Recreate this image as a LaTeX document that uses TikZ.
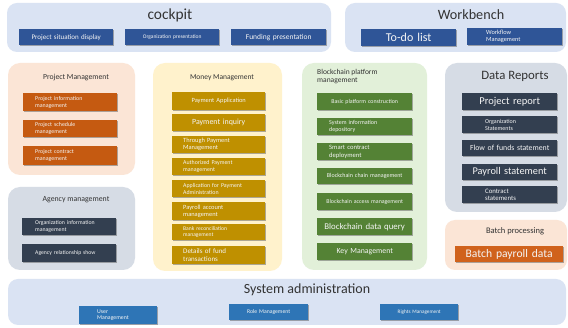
\documentclass[tikz,border=0pt]{standalone}
\usepackage{fontspec}
\setmainfont{Carlito}
\usetikzlibrary{shadows}
\definecolor{pblue}{HTML}{DAE3F3}
\definecolor{pgray}{HTML}{D6DCE5}
\definecolor{ppeach}{HTML}{FBE5D6}
\definecolor{pyellow}{HTML}{FFF2CC}
\definecolor{pgreen}{HTML}{E2F0D9}
\definecolor{cdblue}{HTML}{2F5597}
\definecolor{csblue}{HTML}{2E75B6}
\definecolor{corange}{HTML}{C55A11}
\definecolor{cbatch}{HTML}{D0621C}
\definecolor{cgold}{HTML}{BF9000}
\definecolor{cgreen}{HTML}{548235}
\definecolor{cnavy}{HTML}{333F50}
\tikzset{
  fs/.code={\pgfmathsetmacro\mybls{#1*1.12}\tikzset{font=\fontsize{#1pt}{\mybls pt}\selectfont}},
  bx/.style={anchor=north west, inner sep=0pt, text=white!92!gray, align=left,
    drop shadow={shadow xshift=1.2pt, shadow yshift=-1.2pt, opacity=0.45, fill=black!70}},
  ttl/.style={inner sep=0pt, text=black!80},
}
\begin{document}
\begin{tikzpicture}[x=1pt,y=-1pt]
\useasboundingbox[fill=white] (0,0) rectangle (568,328);
% panels
\fill[pblue, rounded corners=10pt] (7,3) rectangle (331,52);
\fill[pblue, rounded corners=10pt] (345,3) rectangle (566,52);
\fill[ppeach, rounded corners=12pt] (8,63) rectangle (135,175);
\fill[pyellow, rounded corners=12pt] (153,63) rectangle (282,271);
\fill[pgreen, rounded corners=12pt] (302,63) rectangle (427,270);
\fill[pgray, rounded corners=12pt] (445,63) rectangle (567,212);
\fill[pgray, rounded corners=12pt] (8,187) rectangle (135,270);
\fill[ppeach, rounded corners=10pt] (445,220) rectangle (567,270);
\fill[pblue, rounded corners=10pt] (8,279) rectangle (566,325);

% titles
\node[ttl, fs=15.4] (tcock) at (170,15) {cockpit};
\node[ttl, fs=14.2] (twork) at (471,15) {Workbench};
\node[ttl, fs=7.7] (tpm) at (76,78) {Project Management};
\node[ttl, fs=7.5] (tmm) at (222,78) {Money Management};
\node[ttl, fs=7.5, anchor=north west, align=left] (tbc) at (317,69) {Blockchain platform\\management};
\node[ttl, fs=12.8] (tdr) at (515,76) {Data Reports};
\node[ttl, fs=7.8] (tam) at (76,200) {Agency management};
\node[ttl, fs=8.5] (tbp) at (515,231) {Batch processing};
\node[ttl, fs=14] (tsa) at (307,290) {System administration};

% cockpit
\node[bx, fill=cdblue, minimum width=94pt, minimum height=16pt, text width=94pt, align=center, fs=7] (c1) at (19,29) {Project situation display};
\node[bx, fill=cdblue, minimum width=94pt, minimum height=16pt, text width=94pt, align=center, fs=5.5] (c2) at (125,29) {Organization presentation};
\node[bx, fill=cdblue, minimum width=95pt, minimum height=16pt, text width=95pt, align=center, fs=7.5] (c3) at (231,29) {Funding presentation};
% workbench
\node[bx, fill=cdblue, minimum width=95pt, minimum height=17pt, text width=95pt, align=center, fs=12] (w1) at (361,29) {To-do list};
\node[bx, fill=cdblue, minimum width=95pt, minimum height=17pt, text width=57pt, fs=6.3] (w2) at (467,28) {Workflow\\Management};

% project management
\node[bx, fill=corange, minimum width=94pt, minimum height=18pt, text width=70pt, fs=5.9] (p1) at (23,93) {Project information\\management};
\node[bx, fill=corange, minimum width=94pt, minimum height=17pt, text width=70pt, fs=5.9] (p2) at (23,120) {Project schedule\\management};
\node[bx, fill=corange, minimum width=94pt, minimum height=19pt, text width=70pt, fs=5.9] (p3) at (23,146) {Project contract\\management};

% money management
\node[bx, fill=cgold, minimum width=93pt, minimum height=18pt, text width=93pt, align=center, fs=6.4] (m1) at (172,92) {Payment Application};
\node[bx, fill=cgold, minimum width=93pt, minimum height=17pt, text width=93pt, align=center, fs=7.9] (m2) at (172,114) {Payment inquiry};
\node[bx, fill=cgold, minimum width=93pt, minimum height=17pt, text width=71pt, fs=6.4] (m3) at (172,136) {Through Payment\\Management};
\node[bx, fill=cgold, minimum width=93pt, minimum height=17pt, text width=71pt, fs=5.9] (m4) at (172,158) {Authorized Payment\\management};
\node[bx, fill=cgold, minimum width=93pt, minimum height=17pt, text width=71pt, fs=5.9] (m5) at (172,180) {Application for Payment\\Administration};
\node[bx, fill=cgold, minimum width=93pt, minimum height=18pt, text width=71pt, fs=6.4] (m6) at (172,202) {Payroll account\\management};
\node[bx, fill=cgold, minimum width=93pt, minimum height=16pt, text width=71pt, fs=5.6] (m7) at (172,224) {Bank reconciliation\\management};
\node[bx, fill=cgold, minimum width=93pt, minimum height=18pt, text width=71pt, fs=7] (m8) at (172,246) {Details of fund\\transactions};

% blockchain
\node[bx, fill=cgreen, minimum width=95pt, minimum height=17pt, text width=95pt, align=center, fs=5.9] (b1) at (317,93) {Basic platform construction};
\node[bx, fill=cgreen, minimum width=95pt, minimum height=17pt, text width=71pt, fs=6] (b2) at (317,118) {System information\\depository};
\node[bx, fill=cgreen, minimum width=95pt, minimum height=17pt, text width=71pt, fs=6.6] (b3) at (317,143) {Smart contract\\deployment};
\node[bx, fill=cgreen, minimum width=95pt, minimum height=16pt, text width=95pt, align=center, fs=6] (b4) at (317,168) {Blockchain chain management};
\node[bx, fill=cgreen, minimum width=95pt, minimum height=17pt, text width=95pt, align=center, fs=5.9] (b5) at (317,193) {Blockchain access management};
\node[bx, fill=cgreen, minimum width=95pt, minimum height=17pt, text width=95pt, align=center, fs=8.8] (b6) at (317,218) {Blockchain data query};
\node[bx, fill=cgreen, minimum width=95pt, minimum height=17pt, text width=95pt, align=center, fs=7.8] (b7) at (317,243) {Key Management};

% data reports
\node[bx, fill=cnavy, minimum width=95pt, minimum height=17pt, text width=95pt, align=center, fs=10.5] (d1) at (462,93) {Project report};
\node[bx, fill=cnavy, minimum width=95pt, minimum height=17pt, text width=49pt, fs=6] (d2) at (462,116) {Organization\\Statements};
\node[bx, fill=cnavy, minimum width=95pt, minimum height=16pt, text width=95pt, align=center, fs=7.8] (d3) at (462,140) {Flow of funds statement};
\node[bx, fill=cnavy, minimum width=95pt, minimum height=16pt, text width=95pt, align=center, fs=10.3] (d4) at (462,164) {Payroll statement};
\node[bx, fill=cnavy, minimum width=95pt, minimum height=17pt, text width=49pt, fs=6.8] (d5) at (462,186) {Contract\\statements};

% agency
\node[bx, fill=cnavy, minimum width=94pt, minimum height=17pt, text width=68pt, fs=5.8] (a1) at (22,218) {Organization information\\management};
\node[bx, fill=cnavy, minimum width=94pt, minimum height=18pt, text width=68pt, fs=5.7] (a2) at (22,244) {Agency relationship show};

% batch
\node[bx, fill=cbatch, minimum width=108pt, minimum height=16pt, text width=108pt, align=center, fs=11.6] (bp1) at (455,246) {Batch payroll data};

% system administration
\node[bx, fill=csblue, minimum width=78pt, minimum height=18pt, text width=42pt, fs=5.8] (s1) at (79,306) {User\\Management};
\node[bx, fill=csblue, minimum width=79pt, minimum height=16pt, text width=79pt, align=center, fs=5.7] (s2) at (229,304) {Role Management};
\node[bx, fill=csblue, minimum width=78pt, minimum height=16pt, text width=78pt, align=center, fs=5.2] (s3) at (380,304) {Rights Management};
\end{tikzpicture}
\end{document}
